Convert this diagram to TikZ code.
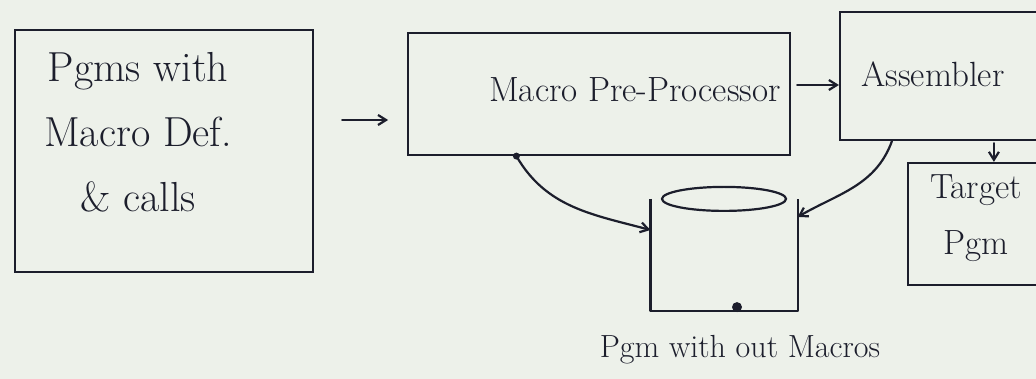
\documentclass[tikz,border=0pt]{standalone}
\usetikzlibrary{arrows.meta,calc}
\definecolor{paper}{HTML}{EDF1EA}
\definecolor{ink}{HTML}{1C1E2C}
\begin{document}
\begin{tikzpicture}[x=1pt,y=-1pt,
  line width=2.2pt, draw=ink, text=ink,
  >={Straight Barb[length=8pt,width=10pt]},
  box/.style={draw, rectangle, inner sep=0pt, align=center},
  lbl/.style={font=\fontsize{35}{42}\selectfont, align=center},
  flow/.style={->, line cap=round}
]
\useasboundingbox (0,0) rectangle (1036,379);
\fill[paper] (0,0) rectangle (1036,379);
\clip (0,0) rectangle (1036,379);

% source program box
\node[box, minimum width=298pt, minimum height=242pt] (src) at (164,151) {};
\node[font=\fontsize{42}{65}\selectfont, align=center] (srct) at (138,132)
  {Pgms with\\Macro Def.\\\& calls};

% macro pre-processor
\node[box, minimum width=382pt, minimum height=122pt] (mpp) at (599,94) {};
\node[lbl] (mppt) at (635,90) {Macro Pre-Processor};

% assembler (runs off the right edge)
\node[box, minimum width=210pt, minimum height=128pt] (asm) at (945,76) {};
\node[lbl] (asmt) at (933,74) {Assembler};

% target program (runs off the right edge)
\node[box, minimum width=142pt, minimum height=122pt] (tgt) at (979,224) {};
\node[lbl, font=\fontsize{35}{56}\selectfont] (tgtt) at (976,218) {Target\\Pgm};

% intermediate store: open box with an elliptic lid
\node[minimum width=145pt, minimum height=110pt, inner sep=0pt] (store) at (724,255) {};
\draw[line join=round] (store.north west) -- (store.south west)
  -- (store.south east) -- (store.north east);
\draw (store.north) ellipse [x radius=62pt, y radius=12pt];
\fill[ink] ($(store.south)+(13,-4)$) circle (5pt);
\node[font=\fontsize{32}{38}\selectfont] (out) at (740,350) {Pgm with out Macros};

% connectors
\coordinate (mppo) at ($(mpp.south west)!0.285!(mpp.south east)$);
\coordinate (asmo) at ($(asm.south west)!0.25!(asm.south east)$);
\draw[flow] (src.east |- 0,120) ++(28,0) coordinate (a1) -- ++(46,0) coordinate (a2);
\draw[flow] (mpp.east |- 0,85) ++(6,0) coordinate (b1) -- (asm.west |- b1);
\draw[flow] (asmt.east |- asm.south) ++(-15,2) coordinate (c1) -- (c1 |- tgt.north);
\fill[ink] (mppo) circle (3.5pt);
\draw[flow] (mppo) to[out=-60,in=165] ($(store.west)+(0,-25)$);
\draw[flow] (asmo) to[out=-110,in=30] ($(store.east)+(0,-38)$);
\end{tikzpicture}
\end{document}
